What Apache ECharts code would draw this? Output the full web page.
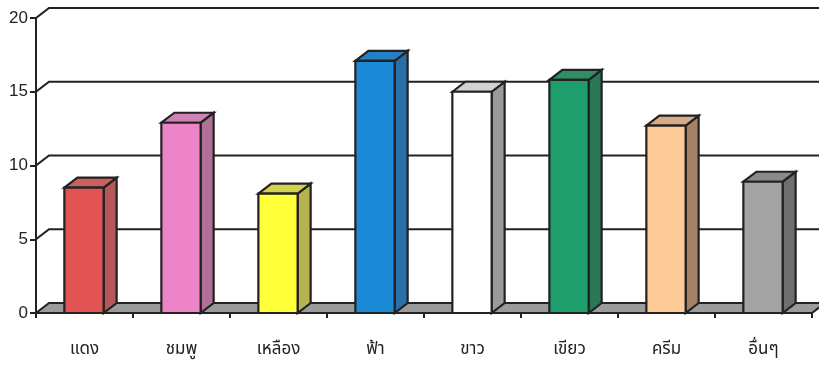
<!DOCTYPE html>
<html>
<head>
<meta charset="utf-8">
<script src="https://cdn.jsdelivr.net/npm/echarts@6/dist/echarts.min.js"></script>
<style>
html,body{margin:0;padding:0;background:#fff;}
#chart{width:819px;height:367px;}
</style>
</head>
<body>
<div id="chart"></div>
<script>
// ---- data ----
const categories = ['แดง', 'ชมพู', 'เหลือง', 'ฟ้า', 'ขาว', 'เขียว', 'ครีม', 'อื่นๆ'];
const values = [8.5, 12.9, 8.1, 17.1, 15.0, 15.8, 12.7, 8.9];
const yTicks = [0, 5, 10, 15, 20];

// ---- styles ----
const frontColors = ['#e25454', '#ee84c8', '#ffff3a', '#1b8ad6', '#ffffff', '#1e9e6c', '#ffcc99', '#a3a3a3'];
const sideColors  = ['#b45858', '#b07098', '#b4b450', '#2a6fa6', '#9a9a9a', '#2b7858', '#a38268', '#6f6f6f'];
const topColors   = ['#c86262', '#d283b6', '#d2d24e', '#2580c6', '#d2d2d2', '#2f8e64', '#d8aa88', '#8a8a8a'];
const DX = 13, DY = 10;
const EDGE = '#222';

const chart = echarts.init(document.getElementById('chart'));

const option = {
  animation: false,
  backgroundColor: '#fff',
  grid: { left: 36, right: 7, top: 18, bottom: 54 },
  xAxis: {
    type: 'category',
    data: categories,
    boundaryGap: true,
    axisLine: { show: true, lineStyle: { color: EDGE, width: 2 } },
    axisTick: { show: true, length: 5, lineStyle: { color: EDGE, width: 2 } },
    axisLabel: {
      margin: 29,
      fontSize: 17,
      color: '#222',
      fontFamily: '"Noto Sans Thai", "Loma", "Garuda", "Tahoma", "DejaVu Sans", sans-serif'
    },
    splitLine: { show: false },
    z: 1
  },
  yAxis: {
    type: 'value',
    min: 0,
    max: 20,
    interval: 5,
    axisLine: { show: true, lineStyle: { color: EDGE, width: 2 } },
    axisTick: { show: true, length: 6, lineStyle: { color: EDGE, width: 2 } },
    axisLabel: {
      margin: 8,
      fontSize: 17,
      color: '#222',
      fontFamily: '"Liberation Sans", Arial, sans-serif'
    },
    splitLine: { show: false }
  },
  series: [
    {
      // back wall gridlines and floor
      type: 'custom',
      z: 1,
      silent: true,
      data: yTicks.map(v => [0, v]),
      renderItem: function (params, api) {
        const cs = params.coordSys;
        const v = api.value(1);
        const y = api.coord([0, v])[1];
        const x0 = cs.x, xr = cs.x + cs.width;
        if (v === 0) {
          return {
            type: 'polygon',
            shape: { points: [[x0, y], [x0 + DX, y - DY], [xr + DX, y - DY], [xr, y]] },
            style: { fill: '#9b9b9b', stroke: EDGE, lineWidth: 2, lineJoin: 'miter' }
          };
        }
        return {
          type: 'polyline',
          shape: { points: [[x0, y], [x0 + DX, y - DY], [xr + DX + 20, y - DY]] },
          style: { fill: null, stroke: EDGE, lineWidth: 2.2 }
        };
      }
    },
    {
      type: 'custom',
      z: 3,
      data: values.map((v, i) => [i, v]),
      renderItem: function (params, api) {
        const i = api.value(0);
        const v = api.value(1);
        const top = api.coord([i, v]);
        const base = api.coord([i, 0]);
        const bw = api.size([1, 0])[0] * 0.405;
        const xl = top[0] - bw / 2 - 0.5;
        const xr = xl + bw;
        const yt = top[1], yb = base[1];
        const st = { stroke: EDGE, lineWidth: 2.2, lineJoin: 'miter' };
        return {
          type: 'group',
          children: [
            {
              type: 'polygon',
              shape: { points: [[xr, yt], [xr + DX, yt - DY], [xr + DX, yb - DY], [xr, yb]] },
              style: Object.assign({ fill: sideColors[i] }, st)
            },
            {
              type: 'polygon',
              shape: { points: [[xl, yt], [xl + DX, yt - DY], [xr + DX, yt - DY], [xr, yt]] },
              style: Object.assign({ fill: topColors[i] }, st)
            },
            {
              type: 'rect',
              shape: { x: xl, y: yt, width: bw, height: yb - yt },
              style: Object.assign({ fill: frontColors[i] }, st)
            }
          ]
        };
      }
    }
  ]
};

chart.setOption(option);
</script>
</body>
</html>
